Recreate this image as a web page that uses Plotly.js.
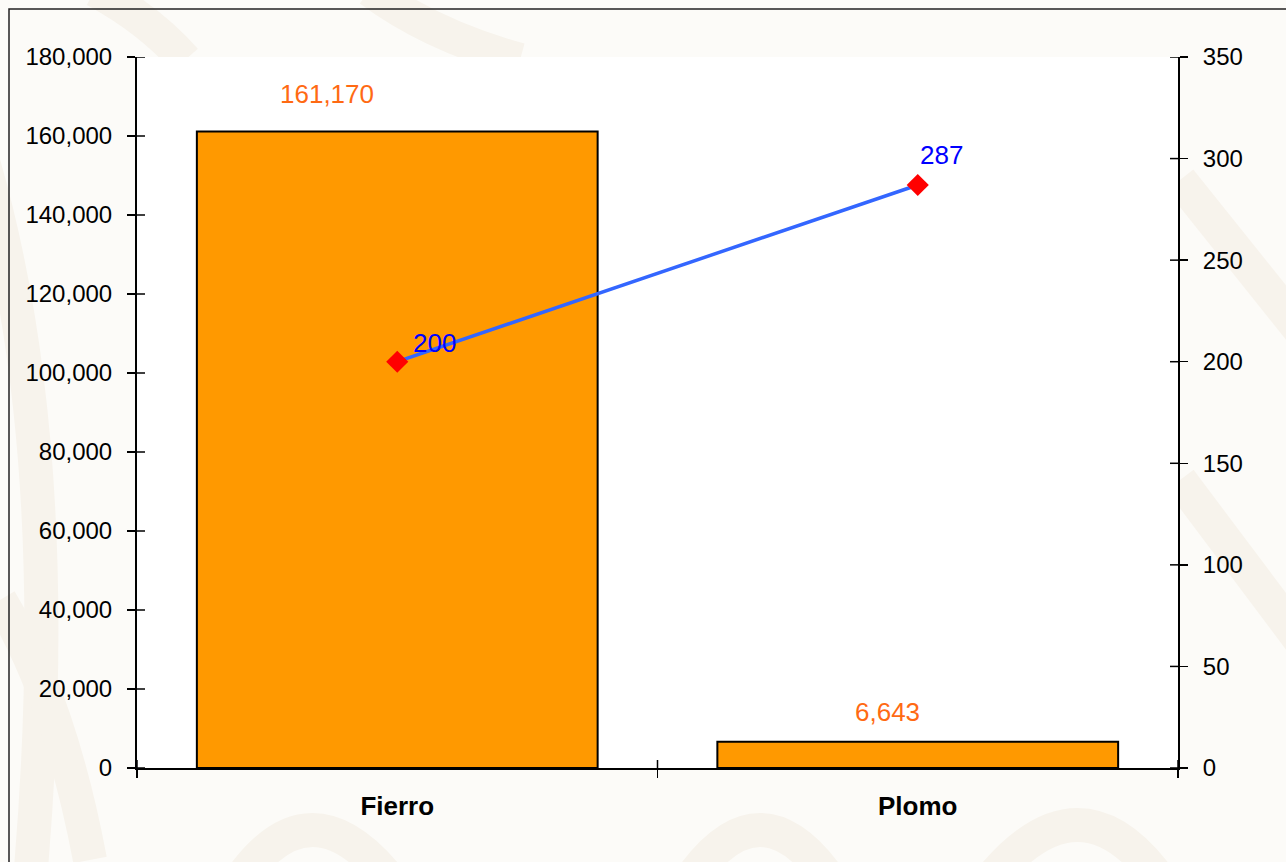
<!DOCTYPE html>
<html>
<head>
<meta charset="utf-8">
<script src="https://cdn.plot.ly/plotly-3.0.1.min.js"></script>
<style>
  html, body { margin: 0; padding: 0; background: #fcfbf8; }
  #chart { width: 1286px; height: 862px; }
</style>
</head>
<body>
<div id="chart"></div>
<script>
// ---- data ----
const categories = ["Fierro", "Plomo"];
const barValues = [161170, 6643];
const lineValues = [200, 287];
const leftTicks = [0, 20000, 40000, 60000, 80000, 100000, 120000, 140000, 160000, 180000];
const rightTicks = [0, 50, 100, 150, 200, 250, 300, 350];

// ---- style / layout ----
const W = 1286, H = 862;
const M = { l: 137, r: 108, t: 57, b: 94 };
const PW = W - M.l - M.r, PH = H - M.t - M.b;
const px = x => (x - M.l) / PW;
const py = y => (H - M.b - y) / PH;
function pathPx(cmds) {
  return cmds.map(c => {
    const l = c[0]; const nums = c.slice(1);
    const out = [];
    for (let i = 0; i < nums.length; i += 2) out.push(px(nums[i]).toFixed(5) + "," + py(nums[i + 1]).toFixed(5));
    return l + out.join(" ");
  }).join(" ");
}

const stripeColor = "#f7f3ec";
const bands = [
  [["M", -30, 120], ["Q", 70, 420, 30, 880]],
  [["M", 95, -10], ["Q", 150, 20, 185, 60]],
  [["M", 370, -10], ["Q", 430, 35, 520, 60]],
  [["M", 240, 880], ["Q", 310, 780, 390, 880]],
  [["M", 690, 880], ["Q", 760, 780, 830, 880]],
  [["M", 990, 880], ["Q", 1080, 770, 1160, 880]],
  [["M", 1180, 180], ["L", 1300, 330]],
  [["M", 1180, 480], ["L", 1300, 640]],
  [["M", 0, 600], ["Q", 60, 700, 90, 860]]
];
const shapes = [];
bands.forEach(b => shapes.push({
  type: "path", xref: "paper", yref: "paper", layer: "below",
  path: pathPx(b), line: { color: stripeColor, width: 34 }
}));
shapes.push({ type: "rect", xref: "paper", yref: "paper", layer: "below",
  x0: 0, x1: 1, y0: 0, y1: 1, fillcolor: "#ffffff", line: { width: 0 } });
shapes.push({ type: "rect", xref: "paper", yref: "paper", layer: "above",
  x0: px(9), x1: px(1300), y0: py(9), y1: py(900), line: { color: "#222", width: 1.5 } });

const tl = 8;
leftTicks.forEach(v => shapes.push({ type: "line", xref: "paper", yref: "y", x0: 0, x1: tl / PW, y0: v, y1: v, line: { color: "#000", width: 1.5 } }));
rightTicks.forEach(v => shapes.push({ type: "line", xref: "paper", yref: "y2", x0: 1 - tl / PW, x1: 1, y0: v, y1: v, line: { color: "#000", width: 1.5 } }));
[-0.5, 0.5, 1.5].forEach(v => shapes.push({ type: "line", xref: "x", yref: "paper", x0: v, x1: v, y0: 0, y1: tl / PH, line: { color: "#000", width: 1.5 } }));

const font = "Liberation Sans, Arial, sans-serif";
const barLabelShift = [[-70, 37], [-30, 30]];
const lineLabelShift = [[37, 19], [24, 30]];
const fmt = v => v.toLocaleString("en-US");

const annotations = [];
categories.forEach((c, i) => {
  annotations.push({ x: c, y: barValues[i], xref: "x", yref: "y", text: fmt(barValues[i]),
    showarrow: false, xshift: barLabelShift[i][0], yshift: barLabelShift[i][1],
    font: { family: font, size: 26, color: "#ff6a13" } });
  annotations.push({ x: c, y: lineValues[i], xref: "x", yref: "y2", text: fmt(lineValues[i]),
    showarrow: false, xshift: lineLabelShift[i][0], yshift: lineLabelShift[i][1],
    font: { family: font, size: 26, color: "#0000ff" } });
});

const traces = [
  { type: "bar", x: categories, y: barValues, width: 0.77,
    marker: { color: "#ff9900", line: { color: "#000", width: 2 } },
    hoverinfo: "skip", showlegend: false },
  { type: "scatter", mode: "lines+markers", x: categories, y: lineValues, yaxis: "y2",
    line: { color: "#3366ff", width: 3.5 },
    marker: { symbol: "diamond", color: "#ff0000", size: 17 },
    hoverinfo: "skip", showlegend: false, cliponaxis: false }
];

const layout = {
  width: W, height: H,
  margin: M,
  paper_bgcolor: "#fcfbf8",
  plot_bgcolor: "rgba(0,0,0,0)",
  font: { family: font, size: 24, color: "#000" },
  showlegend: false,
  xaxis: {
    type: "category", range: [-0.5, 1.5], tickson: "boundaries",
    ticks: "outside", ticklen: tl, tickwidth: 1.5, tickcolor: "#000",
    showline: true, linecolor: "#000", linewidth: 2, showgrid: false, zeroline: false,
    tickfont: { family: font, size: 26, color: "#000", weight: "bold" },
    ticklabelstandoff: 14, fixedrange: true
  },
  yaxis: {
    range: [0, 180000], tickvals: leftTicks, ticktext: leftTicks.map(fmt),
    ticks: "outside", ticklen: tl, tickwidth: 1.5, tickcolor: "#000",
    showline: true, linecolor: "#000", linewidth: 2, showgrid: false, zeroline: false,
    tickfont: { family: font, size: 24, color: "#000" }, ticklabelstandoff: 10, fixedrange: true
  },
  yaxis2: {
    range: [0, 350], tickvals: rightTicks, overlaying: "y", side: "right",
    ticks: "outside", ticklen: tl, tickwidth: 1.5, tickcolor: "#000",
    showline: true, linecolor: "#000", linewidth: 2, showgrid: false, zeroline: false,
    tickfont: { family: font, size: 24, color: "#000" }, ticklabelstandoff: 10, fixedrange: true
  },
  shapes: shapes,
  annotations: annotations
};

Plotly.newPlot("chart", traces, layout, { displayModeBar: false, staticPlot: true });
</script>
</body>
</html>
